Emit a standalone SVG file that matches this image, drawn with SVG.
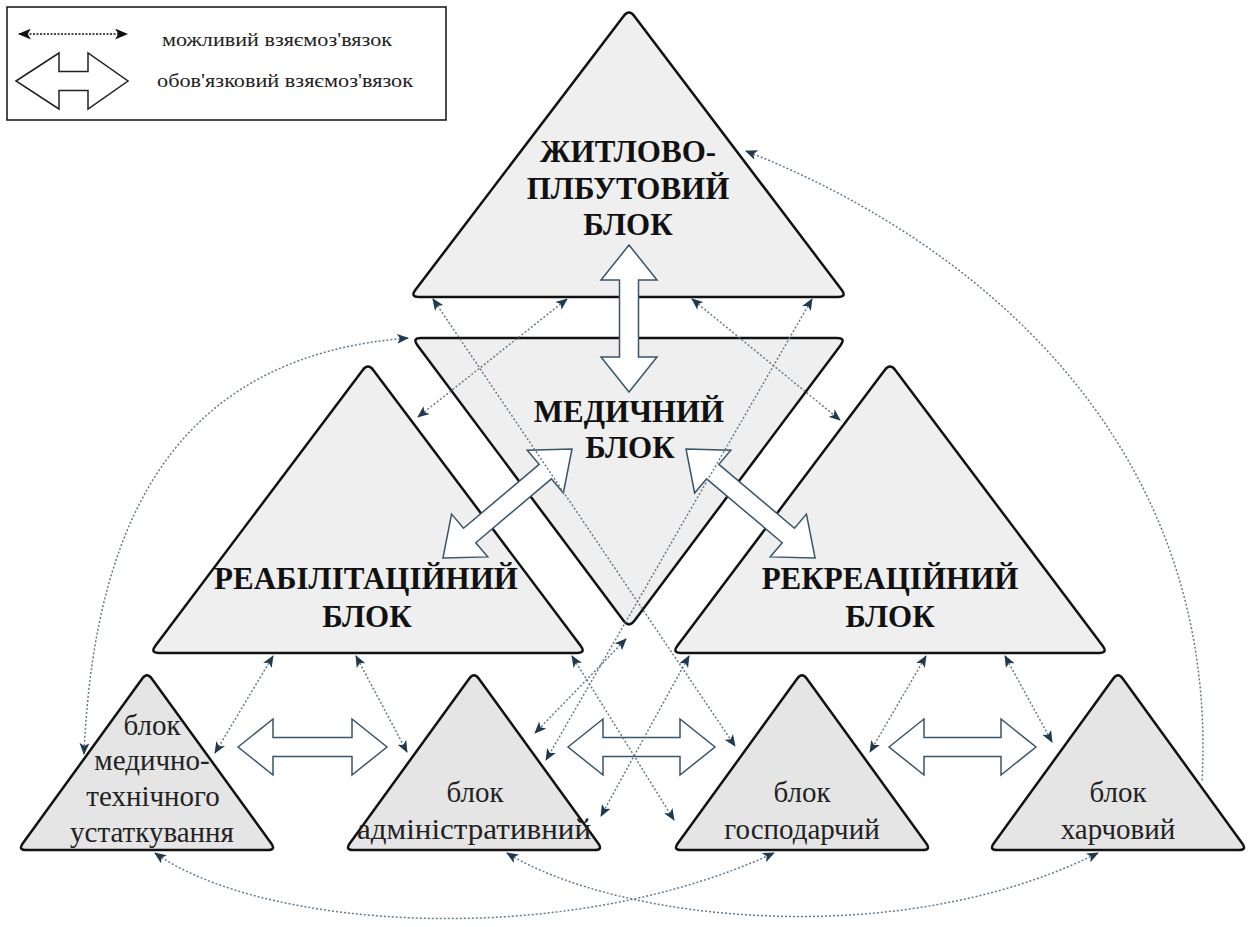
<svg xmlns="http://www.w3.org/2000/svg" width="1249" height="927" viewBox="0 0 1249 927">
<style>
.big{fill:#efefef;stroke:#111;stroke-width:2.5;stroke-linejoin:round}
.small{fill:#e5e5e5;stroke:#111;stroke-width:2.5;stroke-linejoin:round}
.tb{font-family:"Liberation Serif","Times New Roman",serif;font-weight:bold;font-size:31px;fill:#111;text-anchor:middle}
.tn{font-family:"Liberation Serif","Times New Roman",serif;font-size:29px;fill:#222;text-anchor:middle}
.lg{font-family:"Liberation Serif","Times New Roman",serif;font-size:19px;fill:#222}
.dot{fill:none;stroke:#667b8b;stroke-width:1.5;stroke-dasharray:2 2;marker-start:url(#ah);marker-end:url(#ah)}
.thick{fill:#fff;stroke:#3a5468;stroke-width:1.5;stroke-linejoin:miter}
</style>
<defs>
<marker id="ah" viewBox="0 0 12 10" refX="11" refY="5" markerWidth="12" markerHeight="10" markerUnits="userSpaceOnUse" orient="auto-start-reverse">
<path d="M0,0 L12,5 L0,10 L3,5 Z" fill="#1f3a4f"/>
</marker>
<marker id="ahk" viewBox="0 0 12 10" refX="11" refY="5" markerWidth="13" markerHeight="11" markerUnits="userSpaceOnUse" orient="auto-start-reverse">
<path d="M0,0 L12,5 L0,10 L3,5 Z" fill="#111"/>
</marker>
<path id="smallTri" d="M-4.7,678.5 Q0,672 4.7,678.5 L124.3,843.5 Q129,850 121,850 L-121,850 Q-129,850 -124.3,843.5 Z"/>
</defs>

<g id="legend">
<rect x="7" y="7" width="439" height="113" fill="#fff" stroke="#111" stroke-width="1.5"/>
<line x1="19" y1="34" x2="127" y2="34" stroke="#111" stroke-width="1.3" stroke-dasharray="2 1.5" marker-start="url(#ahk)" marker-end="url(#ahk)"/>
<polygon points="16,81 59,53 59,71.5 88,71.5 88,53 128,81 88,109 88,90.5 59,90.5 59,109" fill="#fff" stroke="#222" stroke-width="1.5"/>
<text class="lg" x="162" y="46" textLength="230" lengthAdjust="spacingAndGlyphs">можливий взяємоз'вязок</text>
<text class="lg" x="157" y="87" textLength="256" lengthAdjust="spacingAndGlyphs">обов'язковий взяємоз'вязок</text>
</g>

<g id="node-zhytlovo">
<path class="big" d="M623.5,16.2 Q629,9 634.4,16.2 L841.6,289.8 Q847,297 838,297 L419,297 Q410,297 415.5,289.8 Z"/>
<text class="tb" x="628" y="162">ЖИТЛОВО-</text>
<text class="tb" x="628" y="199">ПЛБУТОВИЙ</text>
<text class="tb" x="628" y="235">БЛОК</text>
</g>

<g id="node-medychnyi">
<path class="big" d="M421,338 L837,338 Q846,338 840.6,345.2 L634.4,620.8 Q629,628 623.6,620.8 L417.4,345.2 Q412,338 421,338 Z"/>
<text class="tb" x="629" y="422">МЕДИЧНИЙ</text>
<text class="tb" x="630" y="458">БЛОК</text>
</g>

<g id="node-reabilitatsiinyi">
<path class="big" d="M362.6,370.2 Q368,363 373.4,370.2 L580.6,645.8 Q586,653 577,653 L159,653 Q150,653 155.4,645.8 Z"/>
<text class="tb" x="366" y="589">РЕАБІЛІТАЦІЙНИЙ</text>
<text class="tb" x="367" y="627">БЛОК</text>
</g>

<g id="node-rekreatsiinyi">
<path class="big" d="M884.6,370.2 Q890,363 895.4,370.2 L1102.6,645.8 Q1108,653 1099,653 L681,653 Q672,653 677.4,645.8 Z"/>
<text class="tb" x="890" y="589">РЕКРЕАЦІЙНИЙ</text>
<text class="tb" x="890" y="627">БЛОК</text>
</g>

<g id="node-medtech">
<use href="#smallTri" class="small" transform="translate(147,0)"/>
<text class="tn" x="152" y="735">блок</text>
<text class="tn" x="152" y="770">медично-</text>
<text class="tn" x="153" y="806">технічного</text>
<text class="tn" x="152" y="842">устаткування</text>
</g>

<g id="node-admin">
<use href="#smallTri" class="small" transform="translate(474,0)"/>
<text class="tn" x="475" y="802">блок</text>
<text class="tn" x="474" y="839" textLength="234" lengthAdjust="spacingAndGlyphs">адміністративний</text>
</g>

<g id="node-hospodarchyi">
<use href="#smallTri" class="small" transform="translate(802,0)"/>
<text class="tn" x="802" y="802">блок</text>
<text class="tn" x="802" y="839">господарчий</text>
</g>

<g id="node-kharchovyi">
<use href="#smallTri" class="small" transform="translate(1118,0)"/>
<text class="tn" x="1118" y="802">блок</text>
<text class="tn" x="1118" y="839">харчовий</text>
</g>

<g id="connectors">
<polygon class="thick" transform="translate(629,245) rotate(90)" points="0,0 35,-28 35,-9.5 112,-9.5 112,-28 147,0 112,28 112,9.5 35,9.5 35,28"/>
<polygon class="thick" transform="translate(572,449) rotate(139.8)" points="0,0 35,-28 35,-9.5 134,-9.5 134,-28 169,0 134,28 134,9.5 35,9.5 35,28"/>
<polygon class="thick" transform="translate(686,449) rotate(40.2)" points="0,0 35,-28 35,-9.5 134,-9.5 134,-28 169,0 134,28 134,9.5 35,9.5 35,28"/>
<polygon class="thick" transform="translate(238,747)" points="0,0 35,-28 35,-9.5 114,-9.5 114,-28 149,0 114,28 114,9.5 35,9.5 35,28"/>
<polygon class="thick" transform="translate(568,747)" points="0,0 35,-28 35,-9.5 112,-9.5 112,-28 147,0 112,28 112,9.5 35,9.5 35,28"/>
<polygon class="thick" transform="translate(889,747)" points="0,0 35,-28 35,-9.5 112,-9.5 112,-28 147,0 112,28 112,9.5 35,9.5 35,28"/>
<line class="dot" x1="433" y1="299" x2="735" y2="746"/>
<line class="dot" x1="567" y1="299" x2="418" y2="417"/>
<line class="dot" x1="692" y1="299" x2="840" y2="420"/>
<line class="dot" x1="812" y1="299" x2="546" y2="760"/>
<line class="dot" x1="273" y1="656" x2="215" y2="753"/>
<line class="dot" x1="356" y1="656" x2="407" y2="752"/>
<line class="dot" x1="572" y1="656" x2="674" y2="820"/>
<line class="dot" x1="626" y1="639" x2="535" y2="733"/>
<line class="dot" x1="689" y1="656" x2="601" y2="816"/>
<line class="dot" x1="926" y1="656" x2="870" y2="752"/>
<line class="dot" x1="1005" y1="656" x2="1052" y2="742"/>
<path class="dot" d="M84,754 C95,500 190,355 408,338"/>
<path class="dot" style="marker-end:none" d="M746,151 C985,245 1220,450 1202,782"/>
<path class="dot" d="M155,853 C260,928 560,952 774,853"/>
<path class="dot" d="M507,853 C620,922 900,952 1098,853"/>
</g>
</svg>
